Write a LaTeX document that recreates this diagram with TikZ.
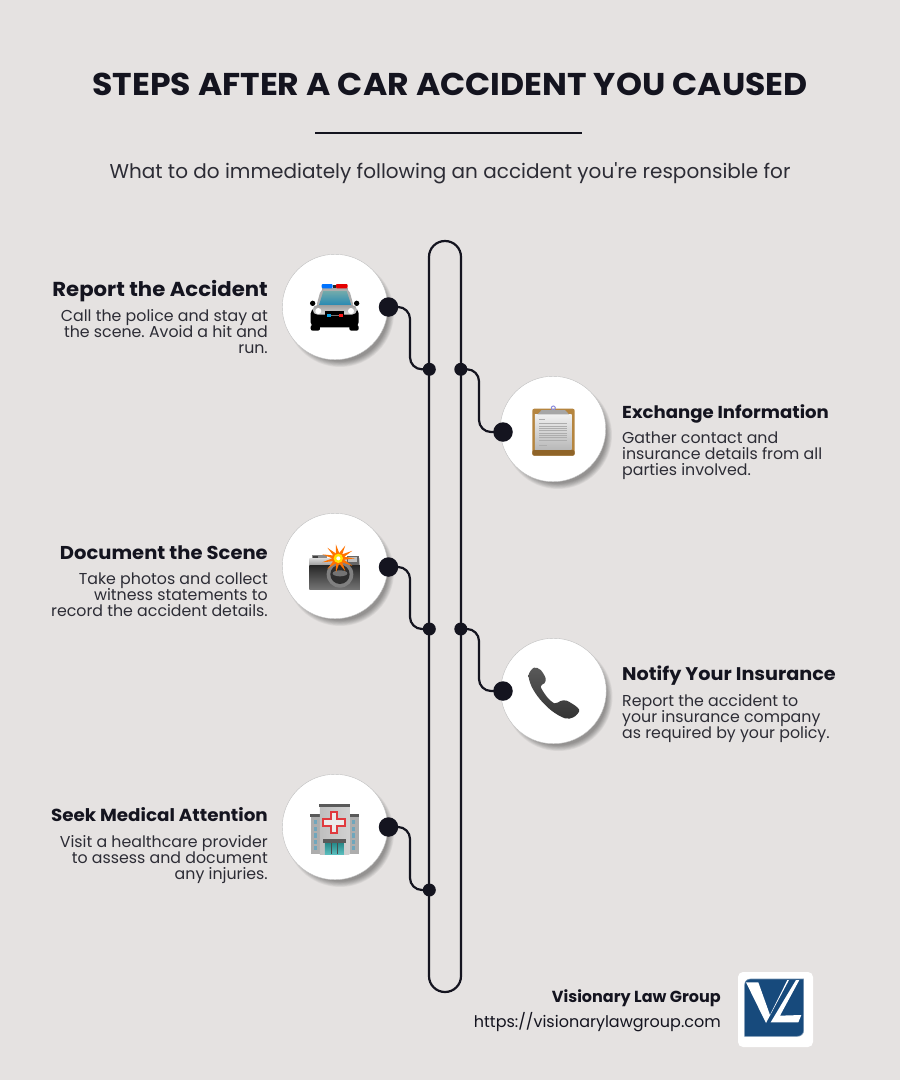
\documentclass[tikz,border=0pt]{standalone}
\usepackage{fontspec}
\setmainfont{Poppins}
\newfontfamily\headf[FakeStretch=1.05]{Poppins}
\usetikzlibrary{calc}
\definecolor{bg}{HTML}{E5E2E1}
\definecolor{ink}{HTML}{14141F}
\definecolor{logoblue}{HTML}{174A7C}
\definecolor{board}{HTML}{B5853F}
\definecolor{boarddark}{HTML}{8F6428}
\definecolor{crossred}{HTML}{E03A3E}
\tikzset{
  titletext/.style={font=\headf\bfseries\fontsize{31.5}{36}\selectfont,text=ink,anchor=base,inner sep=0},
  subtext/.style={font=\fontsize{20}{25}\selectfont,text=ink!90,anchor=base,inner sep=0},
  headr/.style={font=\headf\bfseries,text=ink,anchor=base east,inner sep=0},
  headl/.style={font=\headf\bfseries,text=ink,anchor=base west,inner sep=0},
  bodyr/.style={font=\frenchspacing\fontsize{15.8}{16}\selectfont,execute at begin node={\setlength{\lineskiplimit}{-30pt}},text=ink!90,anchor=north east,align=right,inner sep=0},
  bodyl/.style={font=\frenchspacing\fontsize{15.8}{16}\selectfont,execute at begin node={\setlength{\lineskiplimit}{-30pt}},text=ink!90,anchor=north west,align=left,inner sep=0},
  bigdisc/.style={circle,fill=white,draw=black!25,line width=.4pt,minimum size=105.5pt,inner sep=0},
  bigdot/.style={circle,fill=ink,minimum size=19.5pt,inner sep=0},
  smalldot/.style={circle,fill=ink,minimum size=13pt,inner sep=0},
  rail/.style={draw=ink,line width=2.2pt,rounded corners=12pt},
  trunk/.style={draw=ink,line width=2.2pt},
}
\newcommand{\softshadow}[2]{%
  \foreach \r in {54,53.2,...,48}{
    \fill[black,opacity=0.05] (#1+5,#2+6) circle[radius=\r pt];
  }}
\newcommand{\hsz}[1]{\fontsize{#1}{23}\selectfont}
\begin{document}
\begin{tikzpicture}[x=1pt,y=-1pt]
\fill[bg] (0,0) rectangle (900,1080);
\useasboundingbox (0,0) rectangle (900,1080);

\node[titletext] (title) at (450,95) {STEPS AFTER A CAR ACCIDENT YOU CAUSED};
\coordinate (ruleL) at (315,132.5);
\coordinate (ruleR) at (582,132.5);
\draw[ink,line width=2pt] (ruleL) -- (ruleR);
\node[subtext] (subtitle) at (450,178) {What to do immediately following an accident you\textquotesingle re responsible for};

% discs with shadows
\softshadow{335}{307}
\softshadow{553}{429}
\softshadow{335}{566}
\softshadow{553.5}{691}
\softshadow{335}{827}
\node[bigdisc] (c1) at (335,307) {};
\node[bigdisc] (c2) at (553,429) {};
\node[bigdisc] (c3) at (335,566) {};
\node[bigdisc] (c4) at (553.5,691) {};
\node[bigdisc] (c5) at (335,827) {};

% trunk loop
\coordinate (tl) at (429,241);
\coordinate (tr) at (461,241);
\coordinate (bl) at (429,992);
\coordinate (br) at (461,992);
\draw[trunk,rounded corners=15.9pt] (tl) -- (bl) -- (br) -- (tr) -- cycle;

% dots
\node[bigdot] (d1) at (388.5,307) {};
\node[bigdot] (d2) at (503,432) {};
\node[bigdot] (d3) at (388.5,567) {};
\node[bigdot] (d4) at (503,691) {};
\node[bigdot] (d5) at (388.5,827) {};
\node[smalldot] (j1) at (429.3,369.3) {};
\node[smalldot] (j2) at (460.8,369.3) {};
\node[smalldot] (j3) at (429.3,629) {};
\node[smalldot] (j4) at (460.8,629) {};
\node[smalldot] (j5) at (429.3,890) {};

% connectors
\coordinate (m1) at (410,338);
\coordinate (m2) at (479,400);
\coordinate (m3) at (410,598);
\coordinate (m4) at (479,660);
\coordinate (m5) at (410,858);
\draw[rail] (d1.center) -| (m1) |- (j1.center);
\draw[rail] (j2.center) -| (m2) |- (d2.center);
\draw[rail] (d3.center) -| (m3) |- (j3.center);
\draw[rail] (j4.center) -| (m4) |- (d4.center);
\draw[rail] (d5.center) -| (m5) |- (j5.center);

% texts
\node[headr] (h1) at (268,296) {\hsz{20.2}Report the Accident};
\node[bodyr] (b1) at (268,309) {Call the police and stay at\\the scene. Avoid a hit and\\run.};
\node[headl] (h2) at (622,418) {\hsz{17.25}Exchange Information};
\node[bodyl] (b2) at (622,432) {Gather contact and\\insurance details from all\\parties involved.};
\node[headr] (h3) at (268,559) {\hsz{18.6}Document the Scene};
\node[bodyr] (b3) at (268,573) {Take photos and collect\\witness statements to\\record the accident details.};
\node[headl] (h4) at (622,680) {\hsz{18.3}Notify Your Insurance};
\node[bodyl] (b4) at (622,694) {Report the accident to\\your insurance company\\as required by your policy.};
\node[headr] (h5) at (268,821) {\hsz{17.45}Seek Medical Attention};
\node[bodyr] (b5) at (268,835) {Visit a healthcare provider\\to assess and document\\any injuries.};

% police car
\begin{scope}[shift={(270,240)},x=0.3333pt,y=-0.3333pt]
  \fill[black] (128,190) circle[radius=8];
  \fill[black] (260,190) circle[radius=8];
  \fill[black,rounded corners=2pt] (122,255) rectangle (150,272);
  \fill[black,rounded corners=2pt] (238,255) rectangle (266,272);
  \fill[black!35] (155,144) rectangle (233,150);
  \fill[blue!55!cyan,rounded corners=1pt] (155,132) rectangle (188,145);
  \fill[red!90!black,rounded corners=1pt] (198,132) rectangle (233,145);
  \fill[black!85] (188,134) rectangle (198,145);
  \fill[black!32,rounded corners=4pt] (138,202) -- (153,147) -- (237,147) -- (252,202) -- cycle;
  \shade[top color=cyan!40!black!55,bottom color=cyan!70!blue!65!black!85] (147,196) -- (160,153) -- (230,153) -- (244,196) -- cycle;
  \fill[black,rounded corners=5pt] (122,205) rectangle (266,262);
  \shade[top color=black!38,bottom color=black!15,rounded corners=5pt] (128,195) rectangle (261,224);
  \fill[white] (145,213) circle[radius=9];
  \fill[white] (243,213) circle[radius=9];
  \fill[black] (165,214) rectangle (223,240);
  \fill[cyan!90!blue] (170,222) rectangle (182,230);
  \fill[red!90] (206,222) rectangle (218,230);
  \fill[black!55] (182,224) rectangle (206,229);
\end{scope}

% clipboard
\begin{scope}[shift={(450,360)},x=0.3333pt,y=-0.3333pt]
  \fill[board,rounded corners=2pt] (247,146) rectangle (374,287);
  \fill[boarddark,rounded corners=2pt] (247,270) rectangle (374,287);
  \shade[top color=black!6,bottom color=black!28] (255,163) rectangle (365,270);
  \foreach \yy in {190,197,...,240}{
    \draw[black!32,line width=.3pt] (268,\yy) -- (350,\yy);
  }
  \draw[black!32,line width=.3pt] (268,178) -- (285,178);
  \draw[black!32,line width=.3pt] (268,255) -- (290,255);
  \draw[black!30!blue!45,line width=1pt] (310,144) circle[radius=6];
  \fill[black!35] (275,150) -- (345,150) -- (357,163) -- (263,163) -- cycle;
\end{scope}

% camera
\begin{scope}[shift={(270,505)},x=0.3333pt,y=-0.3333pt]
  \fill[black!45] (125,150) rectangle (170,160);
  \fill[black!75] (130,153) rectangle (145,162);
  \shade[top color=black!15,bottom color=black!40] (118,160) rectangle (270,182);
  \fill[black!60] (230,152) rectangle (268,180);
  \fill[black!25] (235,156) rectangle (262,172);
  \shade[top color=black!85,bottom color=black!55] (118,180) rectangle (270,252);
  \fill[black!50] (210,208) circle[radius=40];
  \fill[black!82] (210,208) circle[radius=29];
  \fill[black!55] (210,205) ellipse[x radius=22,y radius=9];
  \fill[orange!90!red] plot[samples at={0,...,21}] ({205+(18+32*(1-mod(\x,2)))*cos(\x*360/22)},{160+(16+26*(1-mod(\x,2)))*sin(\x*360/22)}) -- cycle;
  \fill[yellow!85!orange] (205,160) circle[radius=14];
  \fill[white] (205,160) circle[radius=6];
\end{scope}

% phone
\begin{scope}[shift={(490,630)},x=0.3333pt,y=-0.3333pt]
  \shade[top color=black!65,bottom color=black!80]
    plot[smooth cycle,tension=.55] coordinates {(116,135) (132,113) (152,120) (167,145) (163,160) (152,170) (172,202) (194,220) (212,213) (230,212) (262,232) (267,245) (250,262) (225,265) (186,243) (150,208) (125,170)};
\end{scope}

% hospital
\begin{scope}[shift={(270,770)},x=0.3333pt,y=-0.3333pt]
  \fill[black!32] (122,136) rectangle (150,252);
  \fill[black!32] (238,136) rectangle (266,252);
  \fill[black!65] (120,132) rectangle (150,140);
  \fill[black!65] (238,132) rectangle (268,140);
  \foreach \yy in {150,170,190,210,228}{
    \fill[cyan!60!black!70] (131,\yy) rectangle (141,\yy+13);
    \fill[cyan!60!black!70] (245,\yy) rectangle (255,\yy+13);
  }
  \shade[left color=black!25,right color=black!18] (150,108) rectangle (238,252);
  \fill[black!65] (147,102) rectangle (240,112);
  \draw[crossred,line width=1.8pt,fill=black!8] (182,127) -- (202,127) -- (202,147) -- (224,147) -- (224,167) -- (202,167) -- (202,188) -- (182,188) -- (182,167) -- (160,167) -- (160,147) -- (182,147) -- cycle;
  \shade[top color=cyan!45!black!85,bottom color=cyan!60!black!65] (165,218) rectangle (222,252);
  \foreach \xx in {184,203}{\draw[black!70,line width=.8pt] (\xx,218) -- (\xx,252);}
  \fill[black!65] (158,208) rectangle (228,220);
\end{scope}

% footer
\node[font=\bfseries\fontsize{16}{19}\selectfont,text=ink,anchor=base east,inner sep=0] (brand) at (721,1002) {Visionary Law Group};
\node[font=\fontsize{16}{19}\selectfont,text=ink,anchor=base east,inner sep=0] (url) at (721,1027) {https://visionarylawgroup.com};

% logo
\fill[white,rounded corners=5pt] (738,972) rectangle (813,1047);
\begin{scope}[shift={(730,965)},x=0.3333pt,y=-0.3333pt]
  \filldraw[fill=logoblue,draw=logoblue!60!white,line width=.6pt] (62,42) -- (221,42) -- (221,195) .. controls (221,208) and (212,214) .. (200,214) -- (44,214) -- (44,60) .. controls (44,48) and (52,42) .. (62,42) -- cycle;
  \fill[white] (48,52) -- (85,52) -- (120,150) -- (172,45) -- (177,45) -- (108,174) -- cycle;
  \fill[white] (198,45) -- (208,45) -- (150,152) -- (214,150) -- (205,172) -- (122,172) -- cycle;
\end{scope}
\end{tikzpicture}
\end{document}
